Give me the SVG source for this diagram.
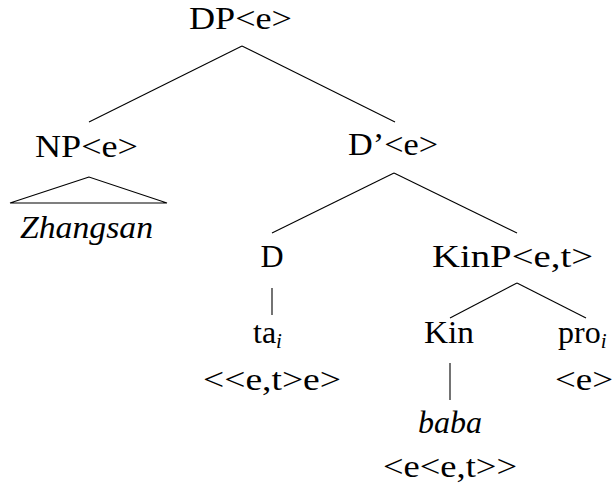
<svg xmlns="http://www.w3.org/2000/svg" width="614" height="490" viewBox="0 0 614 490">
<style>
text{font-size:32px;fill:#000;text-anchor:middle}
.it{font-style:italic}
.st{text-anchor:start}
.sub{font-size:21px;font-style:italic}
.e{stroke:#000;stroke-width:1.1;fill:none}
</style>
<rect width="614" height="490" fill="#fff"/>
<g id="connectors">
<line class="e" x1="242" y1="46" x2="89" y2="122"/>
<line class="e" x1="242" y1="46" x2="395" y2="122"/>
<polygon class="e" points="89,177 10,203 167,203"/>
<line class="e" x1="394" y1="173" x2="272" y2="233"/>
<line class="e" x1="394" y1="173" x2="517" y2="233"/>
<line class="e" x1="272" y1="288" x2="272" y2="315"/>
<line class="e" x1="517" y1="283" x2="450" y2="318"/>
<line class="e" x1="517" y1="283" x2="586" y2="318"/>
<line class="e" x1="450" y1="363" x2="450" y2="400"/>
</g>
<g id="nodes" font-family="Liberation Serif">
<g id="DP"><text x="240.5" y="29" textLength="103" lengthAdjust="spacingAndGlyphs">DP&lt;e&gt;</text></g>
<g id="NP"><text x="86.5" y="157" textLength="103" lengthAdjust="spacingAndGlyphs">NP&lt;e&gt;</text></g>
<g id="Zhangsan"><text class="it" x="86.5" y="238" textLength="133" lengthAdjust="spacingAndGlyphs">Zhangsan</text></g>
<g id="Dbar"><text x="393" y="155" textLength="90" lengthAdjust="spacingAndGlyphs">D’&lt;e&gt;</text></g>
<g id="D"><text x="272" y="267">D</text></g>
<g id="KinP"><text x="512.5" y="267" textLength="161" lengthAdjust="spacingAndGlyphs">KinP&lt;e,t&gt;</text></g>
<g id="ta"><text class="st" x="253" y="343">ta<tspan class="sub" dy="5">i</tspan></text></g>
<g id="ta-type"><text x="272" y="390" textLength="138" lengthAdjust="spacingAndGlyphs">&lt;&lt;e,t&gt;e&gt;</text></g>
<g id="Kin"><text x="449" y="343" textLength="50" lengthAdjust="spacingAndGlyphs">Kin</text></g>
<g id="pro"><text class="st" x="558" y="343">pro<tspan class="sub" dy="5">i</tspan></text></g>
<g id="pro-type"><text x="584" y="390" textLength="58" lengthAdjust="spacingAndGlyphs">&lt;e&gt;</text></g>
<g id="baba"><text class="it" x="450" y="433">baba</text></g>
<g id="baba-type"><text x="450" y="477" textLength="134" lengthAdjust="spacingAndGlyphs">&lt;e&lt;e,t&gt;&gt;</text></g>
</g>
</svg>
